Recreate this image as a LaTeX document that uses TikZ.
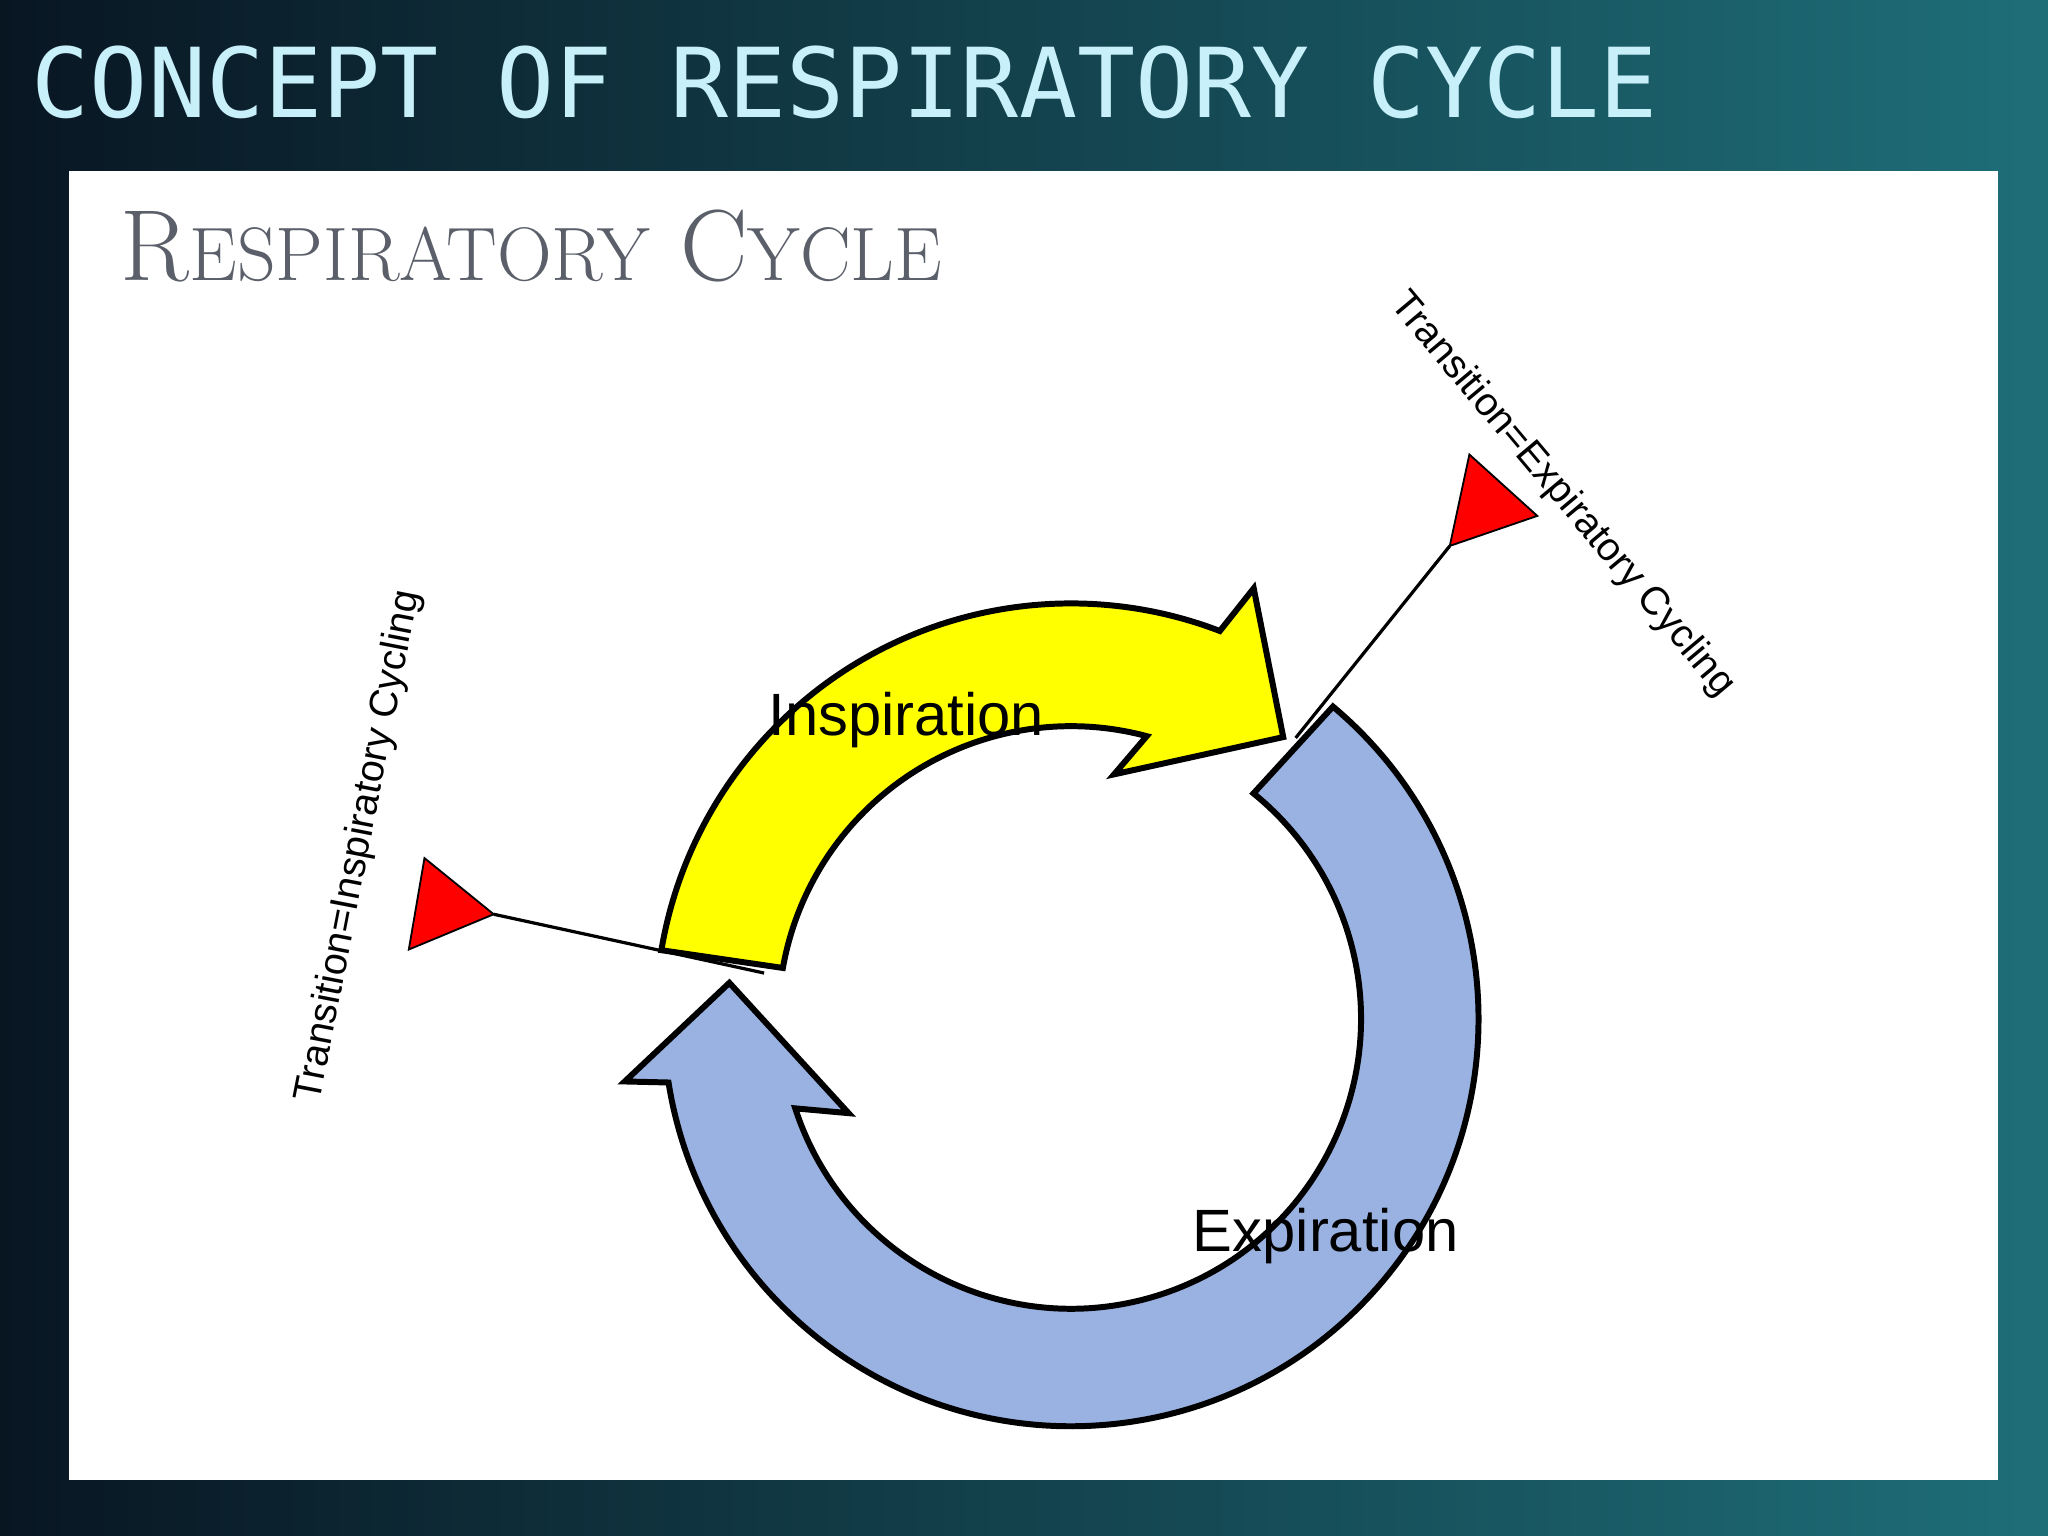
\documentclass[tikz,border=0pt]{standalone}
\usepackage{fontspec}
\setmainfont{Liberation Sans}
\newfontfamily\monofont{DejaVu Sans Mono}
\newfontfamily\lmserif{Latin Modern Roman}
\usetikzlibrary{calc}
\definecolor{bgdark}{RGB}{8,22,34}
\definecolor{bgteal}{RGB}{30,110,120}
\definecolor{titlecyan}{RGB}{200,240,250}
\definecolor{subgray}{RGB}{90,95,105}
\definecolor{yelfill}{RGB}{255,255,0}
\definecolor{bluefill}{RGB}{154,178,226}
\newcommand{\smc}[1]{{\fontsize{16.5}{20}\selectfont #1}}
\begin{document}
\begin{tikzpicture}[x=0.01cm,y=0.01cm,
    cyc/.style={draw=black,line width=1.3pt,line join=miter},
    flag/.style={fill=red,draw=black,line width=0.4pt},
    trans/.style={font=\fontsize{8.6}{10}\selectfont},
    phase/.style={font=\fontsize{13}{15}\selectfont}]
  \useasboundingbox (0,0) rectangle (1568,1176);
  \shade[left color=bgdark,right color=bgteal] (0,0) rectangle (1568,1176);
  \node[anchor=west,text=titlecyan,font=\monofont\fontsize{21}{25}\selectfont] (title) at (12,1113) {CONCEPT OF RESPIRATORY CYCLE};
  \fill[white] (53,43) rectangle (1530,1045);
  \node[anchor=west,text=subgray,font=\lmserif\fontsize{22}{26}\selectfont] (sub) at (80,988)
    {R\smc{ESPIRATORY} C\smc{YCLE}};

  \coordinate (c) at (820,396);
  % inspiration arrow
  \draw[cyc,fill=yelfill] ($(c)+(170.5:318)$) arc[start angle=170.5,end angle=69,radius=318]
    -- ($(c)+(67:358)$) -- ($(c)+(53:270)$) -- ($(c)+(80:190)$) -- ($(c)+(75:224)$)
    arc[start angle=75,end angle=170,radius=224] -- cycle;
  % expiration arrow
  \draw[cyc,fill=bluefill] ($(c)+(50:312)$) arc[start angle=50,end angle=-171,radius=312]
    -- ($(c)+(-172:345)$) -- ($(c)+(-186:263)$) -- ($(c)+(-157:185)$) -- ($(c)+(-162:222)$)
    arc[start angle=-162,end angle=51,radius=222] -- cycle;

  \node[phase] (insp) at (694,625) {Inspiration};
  \node[phase] (exp) at (1015,230) {Expiration};

  % transition markers
  \draw[flag] (325,519) -- (378,476) -- (313,449) -- cycle;
  \draw[flag] (1125,828) -- (1177,781) -- (1110,758) -- cycle;
  \coordinate (li) at (378,476);
  \coordinate (lo) at (1110,758);
  \coordinate (ti) at (585,431);
  \coordinate (to) at (992,611);
  \draw[line width=0.7pt] (li) -- (ti);
  \draw[line width=0.7pt] (lo) -- (to);
  \node[trans,rotate=79] (tin) at (275,528) {Transition=Inspiratory Cycling};
  \node[trans,rotate=-50] (tex) at (1196,797) {Transition=Expiratory Cycling};
\end{tikzpicture}
\end{document}
